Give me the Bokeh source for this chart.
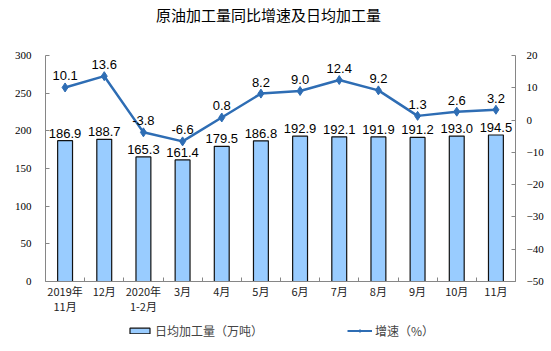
from bokeh.plotting import figure
from bokeh.layouts import column
from bokeh.models import (Range1d, LinearAxis, FixedTicker, ColumnDataSource,
                          Legend, LegendItem, LabelSet, Label)
from bokeh.core.properties import value
from bokeh.embed import file_html
from bokeh.resources import INLINE

title = "原油加工量同比增速及日均加工量"
categories = ["2019年\n11月", "12月", "2020年\n1-2月", "3月", "4月", "5月",
              "6月", "7月", "8月", "9月", "10月", "11月"]
daily = [186.9, 188.7, 165.3, 161.4, 179.5, 186.8, 192.9, 192.1, 191.9, 191.2, 193.0, 194.5]
growth = [10.1, 13.6, -3.8, -6.6, 0.8, 8.2, 9.0, 12.4, 9.2, 1.3, 2.6, 3.2]
left_ticks = [0, 50, 100, 150, 200, 250, 300]
right_ticks = [-50, -40, -30, -20, -10, 0, 10, 20]
bar_name = "日均加工量（万吨）"
line_name = "增速（%）"

BAR_FILL = "#99CCFF"
LINE_COLOR = "#2E6DB4"
AX_COLOR = "#868686"

xs = [i + 0.5 for i in range(len(categories))]
src = ColumnDataSource(dict(
    x=xs, daily=daily, growth=growth,
    dlab=["%.1f" % v for v in daily],
    glab=["%.1f" % v for v in growth],
))


def strip(h):
    f = figure(width=551, height=h, output_backend="svg", toolbar_location=None,
               x_range=Range1d(0, 1), y_range=Range1d(1000, 1001),
               x_axis_type=None, y_axis_type=None, min_border=0)
    f.outline_line_color = None
    f.xgrid.visible = False
    f.ygrid.visible = False
    return f


# title strip
tf = strip(28)
tf.add_layout(Label(x=0.5, y=1000.5, x_offset=-12, text=title,
                    text_align="center", text_baseline="middle",
                    text_font="Noto Sans CJK SC", text_font_size="15px",
                    text_color="black"))

# main chart
p = figure(width=551, height=290, output_backend="svg", toolbar_location=None,
           x_range=Range1d(0, len(categories)), y_range=Range1d(0, 300),
           min_border_left=45, min_border_right=36, min_border_top=27,
           min_border_bottom=37)
p.outline_line_color = None
p.xgrid.visible = False
p.ygrid.visible = False

p.extra_y_ranges = {"g": Range1d(-50, 20)}

# left axis
yl = p.yaxis[0]
yl.ticker = FixedTicker(ticks=left_ticks)
yl.axis_line_color = AX_COLOR
yl.major_tick_line_color = AX_COLOR
yl.major_tick_in = 4
yl.major_tick_out = 0
yl.minor_tick_line_color = None
yl.major_label_standoff = 14
yl.major_label_text_font = "Liberation Serif"
yl.major_label_text_font_size = "11px"
yl.major_label_text_color = "black"

# right axis
yr = LinearAxis(y_range_name="g", ticker=FixedTicker(ticks=right_ticks))
yr.axis_line_color = AX_COLOR
yr.major_tick_line_color = AX_COLOR
yr.major_tick_in = 4
yr.major_tick_out = 0
yr.minor_tick_line_color = None
yr.major_label_standoff = 11
yr.major_label_text_font = "Liberation Serif"
yr.major_label_text_font_size = "11px"
yr.major_label_text_color = "black"
p.add_layout(yr, "right")

# x axis
xa = p.xaxis[0]
xa.ticker = FixedTicker(ticks=xs, minor_ticks=list(range(len(categories) + 1)))
xa.major_label_overrides = {x: c for x, c in zip(xs, categories)}
xa.axis_line_color = AX_COLOR
xa.major_tick_line_color = None
xa.major_tick_in = 0
xa.major_tick_out = 0
xa.minor_tick_line_color = AX_COLOR
xa.minor_tick_in = 4
xa.minor_tick_out = 0
xa.major_label_standoff = 1
xa.major_label_text_font = "Noto Sans CJK SC"
xa.major_label_text_font_size = "11px"
xa.major_label_text_line_height = 0.95
xa.major_label_text_color = "#222222"

bars = p.vbar(x="x", top="daily", width=0.38, source=src,
              fill_color=BAR_FILL, line_color="#111111", line_width=1.2)
ln = p.line(x="x", y="growth", source=src, y_range_name="g",
            line_color=LINE_COLOR, line_width=2.5)
pts = p.scatter(x="x", y="growth", source=src, y_range_name="g",
                marker="diamond", size=9, fill_color=LINE_COLOR, line_color=LINE_COLOR)

p.add_layout(LabelSet(x="x", y="daily", text="dlab", source=src, y_offset=3,
                      text_align="center", text_baseline="bottom",
                      text_font=value("Liberation Sans"), text_font_size="13px",
                      text_color="black"))
p.add_layout(LabelSet(x="x", y="growth", text="glab", source=src, y_range_name="g",
                      y_offset=7, text_align="center", text_baseline="bottom",
                      text_font=value("Liberation Sans"), text_font_size="13px",
                      text_color="black"))

# legend strip below the chart (glyphs fall outside this strip's y range)
lf = strip(33)
lb = lf.vbar(x="x", top="daily", width=0.38, source=src,
             fill_color=BAR_FILL, line_color="#111111", line_width=1.2)
ll = lf.line(x="x", y="growth", source=src, line_color=LINE_COLOR, line_width=2)
lp = lf.scatter(x="x", y="growth", source=src, marker="diamond", size=6,
                fill_color=LINE_COLOR, line_color=LINE_COLOR)

legend = Legend(items=[LegendItem(label=bar_name, renderers=[lb]),
                       LegendItem(label=line_name, renderers=[ll, lp])],
                orientation="horizontal", location=(82, 12),
                glyph_width=25, glyph_height=7, label_height=14,
                label_text_font="Noto Sans CJK SC", label_text_font_size="12px",
                label_standoff=3, spacing=84, padding=0, margin=0,
                border_line_color=None, background_fill_alpha=0)
lf.add_layout(legend, "center")

layout = column(tf, p, lf, spacing=0)
open("out.html", "w").write(file_html(layout, INLINE))
